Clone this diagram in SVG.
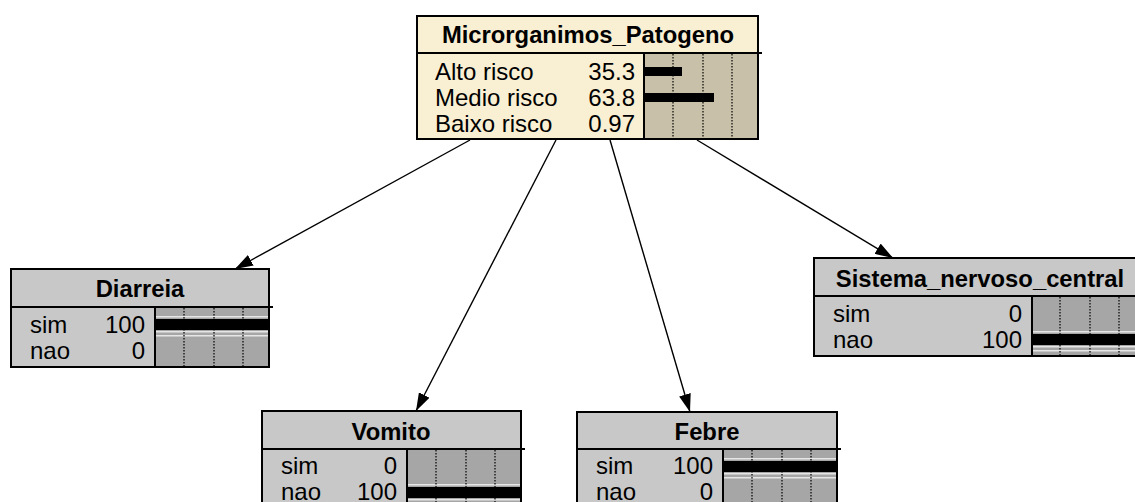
<svg xmlns="http://www.w3.org/2000/svg" width="1135" height="502" viewBox="0 0 1135 502">
<style>
text{font-family:"Liberation Sans",Arial,sans-serif;fill:#000}
.t{font-size:23.8px;font-weight:bold;text-anchor:middle}
.s{font-size:24px}
.v{font-size:24px;text-anchor:end}
.bd{fill:none;stroke:#000;stroke-width:2}
.ln{stroke:#000;stroke-width:2}
.dot{stroke:#000;stroke-width:1.2;stroke-dasharray:1.5 1.5}
.lt{fill:#e6e6e6}
.gh{fill:#c8c8c8}
.gb{fill:#a6a6a6}
.ch{fill:#f9efd3}
.cb{fill:#c9c0a9}
.edge{stroke:#000;stroke-width:1.4;fill:none;marker-end:url(#ah)}
</style>
<defs>
<marker id="ah" markerUnits="userSpaceOnUse" markerWidth="20" markerHeight="12" refX="18" refY="6" orient="auto" viewBox="0 0 20 12">
<path d="M0,0 L18,6 L0,12 Z" fill="#000"/>
</marker>
</defs>
<rect width="1135" height="502" fill="#fff"/>
<g id="connectors">
<line class="edge" x1="470" y1="140" x2="235" y2="269"/>
<line class="edge" x1="556" y1="140" x2="416" y2="411"/>
<line class="edge" x1="610" y1="140" x2="690" y2="412"/>
<line class="edge" x1="697" y1="140" x2="893" y2="258"/>
</g>
<g id="n_microrganimos">
<rect class="ch" x="417" y="16" width="341" height="123"/>
<rect class="cb" x="644" y="53" width="114" height="86"/>
<rect x="644" y="67" width="38" height="9" fill="#000"/>
<rect x="644" y="93" width="70" height="9" fill="#000"/>
<line class="dot" x1="673" y1="54" x2="673" y2="138"/>
<line class="dot" x1="703" y1="54" x2="703" y2="138"/>
<line class="dot" x1="732" y1="54" x2="732" y2="138"/>
<line class="ln" x1="417" y1="53" x2="762" y2="53"/>
<line class="ln" x1="644" y1="53" x2="644" y2="139"/>
<rect class="bd" x="417" y="16" width="341" height="123"/>
<text class="t" x="588" y="43">Microrganimos_Patogeno</text>
<text class="s" x="435" y="80">Alto risco</text>
<text class="s" x="435" y="106">Medio risco</text>
<text class="s" x="435" y="132">Baixo risco</text>
<text class="v" x="635" y="80">35.3</text>
<text class="v" x="635" y="106">63.8</text>
<text class="v" x="635" y="132">0.97</text>
</g>
<g id="n_diarreia">
<rect class="gh" x="11" y="269" width="258" height="98"/>
<rect class="gb" x="155" y="307" width="114" height="60"/>
<rect class="lt" x="155" y="316" width="114" height="1.5"/>
<rect x="155" y="319" width="114" height="11" fill="#000"/>
<rect class="lt" x="155" y="331" width="114" height="1.5"/>
<rect class="lt" x="155" y="335" width="114" height="1.5"/>
<line class="dot" x1="184" y1="308" x2="184" y2="366"/>
<line class="dot" x1="214" y1="308" x2="214" y2="366"/>
<line class="dot" x1="243" y1="308" x2="243" y2="366"/>
<line class="ln" x1="11" y1="307" x2="273" y2="307"/>
<line class="ln" x1="155" y1="307" x2="155" y2="367"/>
<rect class="bd" x="11" y="269" width="258" height="98"/>
<text class="t" x="140" y="297">Diarreia</text>
<text class="s" x="30" y="333">sim</text>
<text class="s" x="30" y="359">nao</text>
<text class="v" x="145" y="333">100</text>
<text class="v" x="145" y="359">0</text>
</g>
<g id="n_sistema">
<rect class="gh" x="814" y="258" width="332" height="98"/>
<rect class="gb" x="1032" y="296" width="114" height="60"/>
<rect class="lt" x="1032" y="331" width="114" height="1.5"/>
<rect x="1032" y="334" width="114" height="11" fill="#000"/>
<rect class="lt" x="1032" y="346" width="114" height="1.5"/>
<rect class="lt" x="1032" y="350" width="114" height="1.5"/>
<line class="dot" x1="1060" y1="297" x2="1060" y2="355"/>
<line class="dot" x1="1090" y1="297" x2="1090" y2="355"/>
<line class="dot" x1="1119" y1="297" x2="1119" y2="355"/>
<line class="ln" x1="814" y1="296" x2="1150" y2="296"/>
<line class="ln" x1="1032" y1="296" x2="1032" y2="356"/>
<rect class="bd" x="814" y="258" width="332" height="98"/>
<text class="t" x="980" y="287">Sistema_nervoso_central</text>
<text class="s" x="833" y="322">sim</text>
<text class="s" x="833" y="348">nao</text>
<text class="v" x="1022" y="322">0</text>
<text class="v" x="1022" y="348">100</text>
</g>
<g id="n_vomito">
<rect class="gh" x="262" y="411" width="259" height="98"/>
<rect class="gb" x="407" y="449" width="114" height="60"/>
<rect class="lt" x="407" y="484" width="114" height="1.5"/>
<rect x="407" y="487" width="114" height="11" fill="#000"/>
<rect class="lt" x="407" y="499" width="114" height="1.5"/>
<line class="dot" x1="436" y1="450" x2="436" y2="508"/>
<line class="dot" x1="466" y1="450" x2="466" y2="508"/>
<line class="dot" x1="495" y1="450" x2="495" y2="508"/>
<line class="ln" x1="262" y1="449" x2="525" y2="449"/>
<line class="ln" x1="407" y1="449" x2="407" y2="509"/>
<rect class="bd" x="262" y="411" width="259" height="98"/>
<text class="t" x="391" y="440">Vomito</text>
<text class="s" x="281" y="474">sim</text>
<text class="s" x="281" y="500">nao</text>
<text class="v" x="397" y="474">0</text>
<text class="v" x="397" y="500">100</text>
</g>
<g id="n_febre">
<rect class="gh" x="577" y="412" width="260" height="98"/>
<rect class="gb" x="723" y="449" width="114" height="60"/>
<rect class="lt" x="723" y="458" width="114" height="1.5"/>
<rect x="723" y="461" width="114" height="11" fill="#000"/>
<rect class="lt" x="723" y="473" width="114" height="1.5"/>
<rect class="lt" x="723" y="477" width="114" height="1.5"/>
<line class="dot" x1="752" y1="450" x2="752" y2="508"/>
<line class="dot" x1="782" y1="450" x2="782" y2="508"/>
<line class="dot" x1="811" y1="450" x2="811" y2="508"/>
<line class="ln" x1="577" y1="449" x2="841" y2="449"/>
<line class="ln" x1="723" y1="449" x2="723" y2="510"/>
<rect class="bd" x="577" y="412" width="260" height="98"/>
<text class="t" x="707" y="440">Febre</text>
<text class="s" x="596" y="474">sim</text>
<text class="s" x="596" y="500">nao</text>
<text class="v" x="713" y="474">100</text>
<text class="v" x="713" y="500">0</text>
</g>
</svg>
